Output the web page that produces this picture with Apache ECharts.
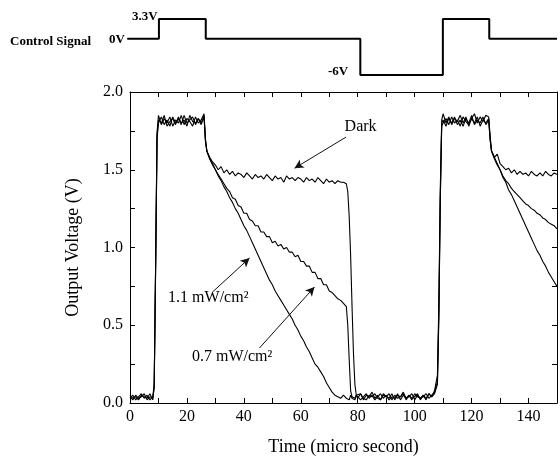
<!DOCTYPE html>
<html><head><meta charset="utf-8">
<script src="https://cdn.jsdelivr.net/npm/echarts@6/dist/echarts.min.js"></script>
<style>html,body{margin:0;padding:0;background:#fff}#c{width:560px;height:459px}</style>
</head><body><div id="c"></div>
<script>
// ---- data (time in micro second, voltages in V) ----
const time = [
  0,1,2,3,4,5,6,7,8,8.5,9,9.5,
  10,11,12,13,14,15,16,17,18,19,20,21,22,23,24,25,26,
  26.5,
  27,28,29,30,31,32,33,34,35,36,
  37,38,39,40,41,42,43,44,45,46,
  47,48,49,50,51,52,53,54,55,56,
  57,58,59,60,61,62,63,64,65,66,
  67,68,69,70,71,72,73,74,75,76,
  76.5,77,77.5,78,78.5,79,79.5,
  80,81,82,83,84,85,86,87,88,89,
  90,91,92,93,94,95,96,97,98,99,
  100,101,102,103,104,105,106,107,
  107.5,108,108.5,109,109.5,
  110,111,112,113,114,115,116,117,118,119,120,121,122,123,124,125,126,
  126.5,
  127,128,129,130,131,132,133,134,135,136,137,138,139,140,141,142,143,144,145,146,147,148,149,150
];
const darkV = [
  0.03,0.05,0.02,0.04,0.06,0.03,0.05,0.02,0.04,0.12,0.90,1.74,
  1.85,1.79,1.83,1.80,1.84,1.78,1.82,1.80,1.85,1.79,1.83,1.81,1.78,1.84,1.80,1.82,1.86,
  1.70,
  1.62,1.58,1.55,1.53,1.50,1.52,1.48,1.50,1.47,1.49,
  1.46,1.48,1.47,1.45,1.48,1.46,1.44,1.47,1.45,1.46,
  1.44,1.47,1.45,1.43,1.46,1.44,1.45,1.42,1.46,1.44,
  1.45,1.43,1.45,1.44,1.42,1.45,1.43,1.44,1.42,1.45,
  1.43,1.41,1.44,1.42,1.43,1.41,1.43,1.42,1.42,1.41,
  1.36,1.20,0.95,0.62,0.32,0.12,0.05,
  0.03,0.06,0.02,0.05,0.04,0.07,0.03,0.05,0.02,0.06,
  0.04,0.03,0.06,0.02,0.05,0.04,0.07,0.03,0.05,0.02,
  0.06,0.04,0.03,0.05,0.02,0.06,0.04,0.08,
  0.08,0.18,0.65,1.38,1.82,
  1.86,1.80,1.84,1.79,1.83,1.81,1.85,1.80,1.84,1.78,1.83,1.86,1.80,1.84,1.81,1.85,1.84,
  1.72,
  1.62,1.58,1.60,1.54,1.52,1.50,1.51,1.48,1.50,1.47,1.49,1.47,1.48,1.46,1.49,1.47,1.46,1.48,1.46,1.49,1.47,1.46,1.48,1.47
];
const lowLightV = [ // 0.7 mW/cm2
  0.04,0.02,0.05,0.03,0.04,0.06,0.02,0.04,0.03,0.10,0.85,1.70,
  1.80,1.84,1.79,1.82,1.78,1.84,1.80,1.83,1.79,1.85,1.80,1.82,1.84,1.79,1.83,1.80,1.85,
  1.68,
  1.62,1.57,1.54,1.50,1.47,1.44,1.41,1.38,1.36,1.32,
  1.31,1.27,1.26,1.22,1.22,1.18,1.17,1.14,1.14,1.10,
  1.10,1.07,1.07,1.03,1.04,1.01,1.02,0.99,1.00,0.97,
  0.97,0.94,0.95,0.91,0.91,0.88,0.88,0.84,0.84,0.80,
  0.80,0.76,0.76,0.72,0.71,0.69,0.67,0.66,0.64,0.62,
  0.50,0.28,0.08,0.04,0.05,0.03,0.05,
  0.05,0.02,0.04,0.06,0.03,0.05,0.02,0.04,0.06,0.03,
  0.05,0.02,0.04,0.03,0.06,0.02,0.05,0.03,0.04,0.06,
  0.02,0.05,0.03,0.04,0.06,0.03,0.05,0.07,
  0.07,0.14,0.58,1.32,1.80,
  1.82,1.78,1.83,1.80,1.84,1.79,1.82,1.78,1.83,1.80,1.85,1.79,1.82,1.80,1.84,1.79,1.82,
  1.70,
  1.62,1.57,1.53,1.50,1.46,1.43,1.41,1.38,1.36,1.34,1.32,1.30,1.28,1.27,1.25,1.24,1.22,1.21,1.19,1.18,1.16,1.15,1.14,1.12
];
const highLightV = [ // 1.1 mW/cm2
  0.05,0.03,0.04,0.02,0.05,0.04,0.03,0.06,0.02,0.11,0.88,1.72,
  1.82,1.80,1.85,1.78,1.81,1.83,1.79,1.84,1.80,1.82,1.78,1.85,1.81,1.80,1.83,1.79,1.84,
  1.69,
  1.62,1.57,1.53,1.50,1.46,1.43,1.39,1.36,1.32,1.29,
  1.25,1.22,1.18,1.14,1.11,1.07,1.03,0.99,0.95,0.91,
  0.87,0.83,0.79,0.76,0.72,0.69,0.66,0.63,0.60,0.57,
  0.54,0.50,0.47,0.43,0.40,0.36,0.33,0.29,0.25,0.23,
  0.20,0.17,0.13,0.10,0.07,0.05,0.04,0.03,0.05,0.03,
  0.04,0.02,0.05,0.03,0.04,0.02,0.05,
  0.04,0.06,0.03,0.02,0.05,0.04,0.06,0.03,0.02,0.05,
  0.04,0.06,0.02,0.05,0.03,0.04,0.06,0.02,0.05,0.03,
  0.04,0.06,0.02,0.05,0.03,0.06,0.04,0.06,
  0.06,0.12,0.55,1.30,1.78,
  1.80,1.83,1.79,1.84,1.80,1.82,1.78,1.84,1.81,1.79,1.83,1.80,1.84,1.78,1.82,1.80,1.83,
  1.69,
  1.62,1.58,1.54,1.50,1.45,1.42,1.37,1.34,1.30,1.26,1.22,1.18,1.14,1.10,1.06,1.02,0.98,0.95,0.91,0.88,0.84,0.81,0.78,0.75
];
// control signal (time, volts)
const ctrlT = [-1,10.15,10.15,26.6,26.6,80.9,80.9,109.9,109.9,126.2,126.2,150];
const ctrlV = [0,0,3.3,3.3,0,0,-6,-6,3.3,3.3,0,0];
// tick labels
const xTickLabels = [0,20,40,60,80,100,120,140];
const yTickLabels = [0.0,0.5,1.0,1.5,2.0];
// annotations (data coordinates)
const annoTexts = ['Dark','1.1 mW/cm\u00B2','0.7 mW/cm\u00B2'];
const annoTextAt = [[81,1.775],[27.5,0.675],[35.9,0.296]];
const arrowFrom = [[75.9,1.71],[29.0,0.714],[45.5,0.354]];
const arrowTo = [[57.8,1.51],[42.0,0.932],[64.8,0.746]];

const FONT = "'Liberation Serif','Times New Roman',serif";
const pairs = v => time.map((t,i)=>[t,v[i]]);
[darkV,lowLightV,highLightV].forEach(a=>{ if(a.length!==time.length) console.error('length mismatch', a.length, time.length); });

const chart = echarts.init(document.getElementById('c'), null, {renderer:'canvas'});
const lineStyle = {color:'#000', width:1.1};
const axisLineCommon = {show:true, onZero:false, lineStyle:{color:'#000', width:1}};
const tickCommon = {show:true, inside:true, length:5, lineStyle:{color:'#000', width:1}};

chart.setOption({
  animation:false,
  backgroundColor:'#fff',
  grid:[
    {left:130, right:3, top:92, bottom:56, outerBoundsMode:'none'},
    {left:127.2, right:3, top:19, height:56, outerBoundsMode:'none'}
  ],
  xAxis:[
    {gridIndex:0, type:'value', min:0, max:150, interval:10, position:'bottom',
     axisLine:axisLineCommon, axisTick:tickCommon, splitLine:{show:false},
     axisLabel:{color:'#000', fontSize:16, fontFamily:FONT, margin:6,
       formatter:v=> xTickLabels.includes(v) ? String(v) : ''},
     name:'Time (micro second)', nameLocation:'middle', nameGap:35,
     nameTextStyle:{color:'#000', fontSize:18, fontFamily:FONT}},
    {gridIndex:0, type:'value', min:0, max:150, interval:10, position:'top',
     axisLine:axisLineCommon, axisTick:tickCommon, splitLine:{show:false}, axisLabel:{show:false}},
    {gridIndex:1, type:'value', min:-1, max:150, show:false}
  ],
  yAxis:[
    {gridIndex:0, type:'value', min:0, max:2, interval:0.25, position:'left',
     axisLine:axisLineCommon, axisTick:tickCommon, splitLine:{show:false},
     axisLabel:{color:'#000', fontSize:16, fontFamily:FONT, margin:7,
       formatter:v=> yTickLabels.some(y=>Math.abs(y-v)<1e-9) ? v.toFixed(1) : ''},
     name:'Output Voltage (V)', nameLocation:'middle', nameGap:48,
     nameTextStyle:{color:'#000', fontSize:18, fontFamily:FONT}},
    {gridIndex:0, type:'value', min:0, max:2, interval:0.25, position:'right',
     axisLine:axisLineCommon, axisTick:tickCommon, splitLine:{show:false}, axisLabel:{show:false}},
    {gridIndex:1, type:'value', min:-6, max:3.3, show:false}
  ],
  series:[
    {type:'line', name:'Dark', xAxisIndex:0, yAxisIndex:0, data:pairs(darkV), showSymbol:false, lineStyle, silent:true,
     markLine:{silent:true, symbol:['none','arrow'], symbolSize:[7,9], animation:false,
       lineStyle:{color:'#111', width:1, type:'solid'}, label:{show:false},
       data: arrowFrom.map((f,i)=>[{coord:f},{coord:arrowTo[i]}])}},
    {type:'line', name:'0.7 mW/cm2', xAxisIndex:0, yAxisIndex:0, data:pairs(lowLightV), showSymbol:false, lineStyle, silent:true},
    {type:'line', name:'1.1 mW/cm2', xAxisIndex:0, yAxisIndex:0, data:pairs(highLightV), showSymbol:false, lineStyle, silent:true},
    {type:'line', name:'Control', xAxisIndex:2, yAxisIndex:2, data:ctrlT.map((t,i)=>[t,ctrlV[i]]), showSymbol:false,
     lineStyle:{color:'#000', width:2}, silent:true}
  ]
});

const gtext = (x,y,text,opt) => Object.assign({type:'text', x, y, silent:true,
  style:Object.assign({text, fill:'#000', fontFamily:FONT, fontSize:16,
    align:'center', verticalAlign:'middle', textAlign:'center', textVerticalAlign:'middle'}, opt||{})});

const graphics = annoTexts.map((t,i)=>{
  const p = chart.convertToPixel({xAxisIndex:0, yAxisIndex:0}, annoTextAt[i]);
  return gtext(p[0], p[1], t);
});
const bold = {fontSize:13, fontWeight:'bold'};
graphics.push(gtext(10, 42, 'Control Signal', Object.assign({align:'left', textAlign:'left'}, bold)));
graphics.push(gtext(125, 40, '0V', Object.assign({align:'right', textAlign:'right'}, bold)));
graphics.push(gtext(132, 17, '3.3V', Object.assign({align:'left', textAlign:'left'}, bold)));
graphics.push(gtext(328, 72, '-6V', Object.assign({align:'left', textAlign:'left'}, bold)));
chart.setOption({graphic: graphics});
</script></body></html>
